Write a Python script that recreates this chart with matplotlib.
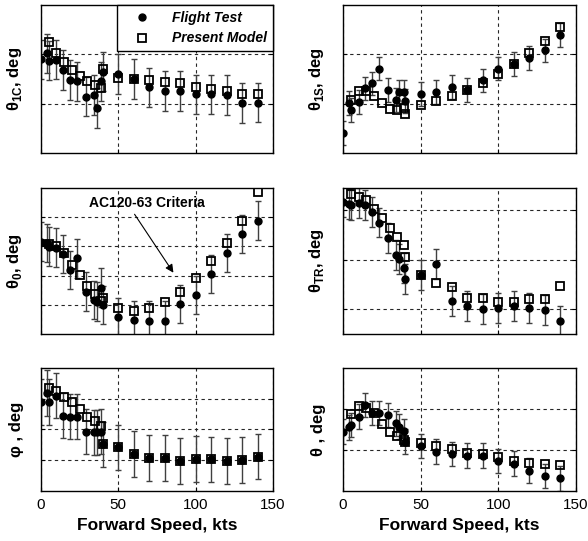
import matplotlib
matplotlib.use("Agg")
import matplotlib.pyplot as plt
from matplotlib.lines import Line2D

plt.rcParams['font.family'] = ['Liberation Sans', 'DejaVu Sans']
plt.rcParams['mathtext.fontset'] = 'custom'
plt.rcParams['mathtext.rm'] = 'Liberation Sans'
plt.rcParams['mathtext.bf'] = 'Liberation Sans:bold'

# forward speed of the flight test points and of the model points (kts)
ft_speed = [0, 4, 5, 10, 14, 19, 23, 29, 34, 36, 39, 40,
            50, 60, 70, 80, 90, 100, 110, 120, 130, 140]
model_speed = [5, 10, 15, 20, 25, 30, 35, 39, 40,
               50, 60, 70, 80, 90, 100, 110, 120, 130, 140]

# theta_1C
ft_1c = [1.90, 2.02, 1.87, 1.89, 1.68, 1.48, 1.45, 1.14, 1.18, 0.91, 1.45, 1.65,
         1.60, 1.50, 1.33, 1.26, 1.26, 1.19, 1.19, 1.18, 1.01, 1.02]
model_1c = [2.24, 2.02, 1.84, 1.68, 1.56, 1.46, 1.38, 1.31, 1.70,
            1.51, 1.50, 1.48, 1.43, 1.41, 1.33, 1.29, 1.26, 1.20, 1.19]
# theta_1S
ft_1s = [0.41, 1.02, 0.87, 1.03, 1.31, 1.41, 1.71, 1.27, 1.07, 1.24, 1.24, 1.05,
         1.19, 1.24, 1.34, 1.28, 1.47, 1.71, 1.80, 1.92, 2.08, 2.39]
model_1s = [1.07, 1.26, 1.26, 1.16, 1.01, 0.89, 0.87, 0.92, 0.80,
            0.97, 1.05, 1.16, 1.28, 1.41, 1.60, 1.80, 2.02, 2.26, 2.56]
# theta_0
ft_0 = [3.16, 3.12, 2.99, 2.96, 2.74, 2.19, 2.59, 1.45, 1.16, 1.11, 1.59, 0.99,
        0.59, 0.48, 0.46, 0.46, 1.03, 1.34, 2.05, 2.78, 3.42, 3.88]
model_0 = [3.09, 3.02, 2.78, 2.36, 2.02, 1.64, 1.36, 1.14, 1.22,
           0.88, 0.79, 0.88, 1.11, 1.43, 1.91, 2.51, 3.11, 3.87, 4.85]
# theta_TR
ft_tr = [3.17, 3.12, 3.10, 3.14, 3.10, 2.97, 2.75, 2.44, 2.10, 2.02, 1.83, 1.61,
         1.69, 1.92, 1.16, 1.07, 1.00, 1.03, 1.07, 1.03, 0.99, 0.76]
model_tr = [3.32, 3.27, 3.20, 3.02, 2.85, 2.65, 2.47, 2.29, 2.06,
            1.69, 1.54, 1.44, 1.23, 1.23, 1.14, 1.14, 1.20, 1.21, 1.47]
# phi
ft_phi = [2.90, 3.18, 2.90, 3.10, 2.45, 2.42, 2.42, 1.93, 1.91, 1.91, 1.93, 1.52,
          1.42, 1.20, 1.08, 1.08, 0.98, 1.04, 1.03, 0.98, 1.01, 1.12]
model_phi = [3.34, 3.26, 3.07, 2.88, 2.66, 2.42, 2.28, 2.12, 1.52,
             1.42, 1.20, 1.08, 1.08, 0.98, 1.04, 1.03, 0.98, 1.01, 1.12]
# theta
ft_th = [1.45, 1.55, 1.61, 1.81, 2.10, 1.90, 1.90, 1.85, 1.65, 1.57, 1.46, 1.20,
         1.10, 0.96, 0.90, 0.86, 0.86, 0.73, 0.67, 0.50, 0.37, 0.31]
model_th = [1.87, 2.08, 2.03, 1.90, 1.63, 1.43, 1.35, 1.24, 1.20,
            1.16, 1.10, 1.02, 0.93, 0.90, 0.82, 0.73, 0.69, 0.65, 0.63]

panels = [
    (r'θ$_{\mathbf{1C}}$, deg', ft_1c, model_1c, 0.40, (0, 3), [1, 2]),
    (r'θ$_{\mathbf{1S}}$, deg', ft_1s, model_1s, 0.24, (0, 3), [1, 2]),
    (r'θ$_{\mathbf{0}}$, deg', ft_0, model_0, 0.66, (0, 5), [1, 2, 3, 4]),
    (r'θ$_{\mathbf{TR}}$, deg', ft_tr, model_tr, 0.30, (0.5, 3.45), [1, 2, 3]),
    ('φ , deg', ft_phi, model_phi, 0.74, (0, 4), [1, 2, 3]),
    ('θ , deg', ft_th, model_th, 0.30, (0, 3), [1, 2]),
]

fig = plt.figure(figsize=(5.88, 5.41), dpi=100)
col_x = [0.0697, 0.5833]
col_w = [0.3946, 0.3963]
rows = [(0.7172, 0.2736), (0.3826, 0.2699), (0.0924, 0.2274)]

for i, (lab, ft, mod, err, ylim, grid) in enumerate(panels):
    r, c = divmod(i, 2)
    ax = fig.add_axes([col_x[c], rows[r][0], col_w[c], rows[r][1]])
    ax.errorbar(ft_speed, ft, yerr=err, fmt='none', ecolor='0.25',
                elinewidth=1.0, capsize=2.5, capthick=1.0, zorder=2)
    ax.plot(ft_speed, ft, 'o', color='black', ms=5, zorder=3)
    ax.plot(model_speed, mod, 's', mfc='none', mec='black', ms=5.5, mew=1.3, zorder=4)
    ax.set_xlim(0, 150)
    ax.set_ylim(*ylim)
    ax.set_xticks([0, 50, 100, 150])
    ax.set_yticks(grid)
    ax.set_yticklabels([])
    ax.grid(True, color='0.15', linestyle=(0, (3, 3)), linewidth=0.8)
    ax.tick_params(direction='in', length=3, right=True, labelsize=11, pad=5)
    for sp in ax.spines.values():
        sp.set_linewidth(1.0)
    ax.set_ylabel(lab, fontsize=12, fontweight='bold')
    ax.yaxis.set_label_coords(-0.075, 0.5)
    if r < 2:
        ax.set_xticklabels([])
    else:
        ax.set_xlabel('Forward Speed, kts', fontsize=12.5, fontweight='bold')

    if i == 0:
        handles = [Line2D([], [], marker='o', color='black', ls='none', ms=5),
                   Line2D([], [], marker='s', mfc='none', mec='black', ls='none',
                          ms=5.5, mew=1.3)]
        leg = ax.legend(handles, ['Flight Test', 'Present Model'], loc='upper right',
                        bbox_to_anchor=(1, 1), borderaxespad=0, fancybox=False,
                        framealpha=1, edgecolor='black', handlelength=2.8,
                        prop={'weight': 'bold', 'style': 'italic', 'size': 10})
        leg.get_frame().set_linewidth(1.0)
    if i == 2:
        ax.text(68.5, 4.5, 'AC120-63 Criteria', fontsize=10, fontweight='bold',
                ha='center', va='center')
        ax.annotate('', xy=(86.6, 2.02), xytext=(59.5, 4.18),
                    arrowprops=dict(arrowstyle='-|>', color='black', lw=0.8,
                                    mutation_scale=12))

fig.savefig('out.png', dpi=100)
